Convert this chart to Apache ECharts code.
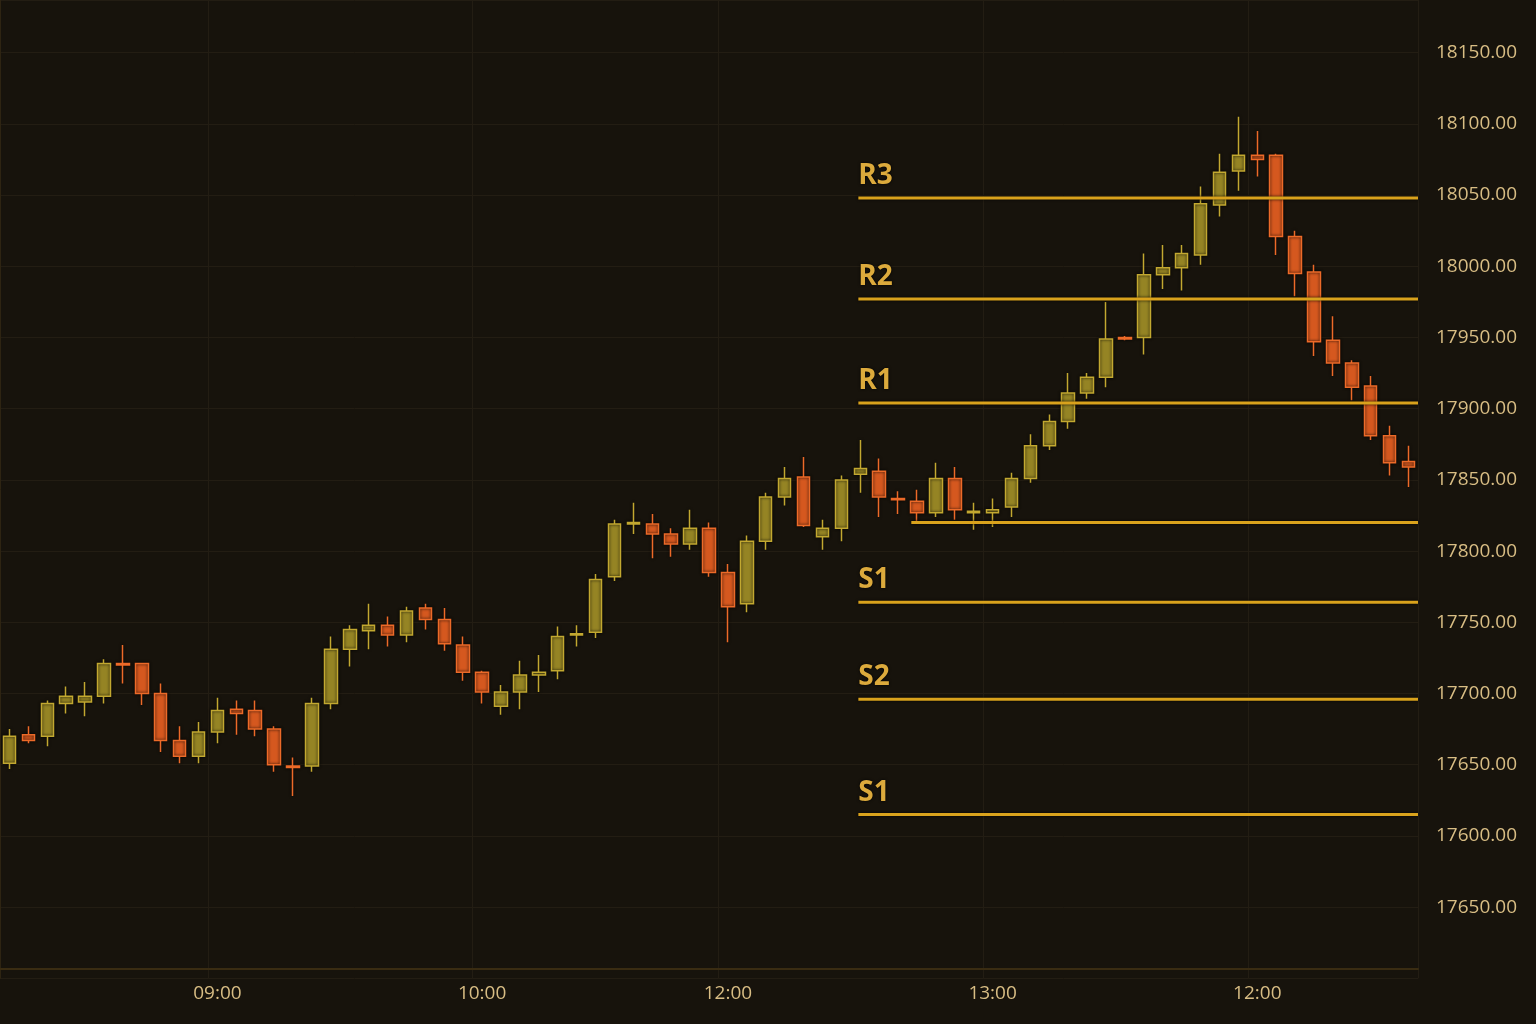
<!DOCTYPE html>
<html>
<head>
<meta charset="utf-8">
<script src="https://cdn.jsdelivr.net/npm/echarts@6/dist/echarts.min.js"></script>
<style>
html,body{margin:0;padding:0;background:#17130c;}
#chart{width:1536px;height:1024px;}
</style>
</head>
<body>
<div id="chart"></div>
<script>
// candles: [open, close, low, high]
var candles = [
  [17651,17670,17647,17675],[17671,17667,17665,17677],[17670,17693,17663,17695],[17693,17698,17686,17705],
  [17694,17698,17684,17708],[17698,17721,17693,17724],[17721,17720,17707,17734],[17721,17700,17692,17721],
  [17700,17667,17659,17707],[17667,17656,17651,17677],[17656,17673,17651,17680],[17673,17688,17665,17697],
  [17689,17686,17671,17695],[17688,17675,17670,17695],[17675,17650,17645,17677],[17649,17648,17628,17655],
  [17649,17693,17645,17697],[17693,17731,17689,17740],[17731,17745,17719,17748],[17744,17748,17731,17763],
  [17748,17741,17733,17754],[17741,17758,17736,17761],[17760,17752,17745,17763],[17752,17735,17730,17760],
  [17734,17715,17709,17740],[17715,17701,17693,17716],[17691,17701,17685,17706],[17701,17713,17689,17723],
  [17713,17715,17701,17727],[17716,17740,17710,17747],[17741,17742,17733,17748],[17743,17780,17739,17784],
  [17782,17819,17779,17822],[17819,17820,17812,17834],[17819,17812,17795,17826],[17812,17805,17796,17816],
  [17805,17816,17801,17829],[17816,17785,17782,17820],[17785,17761,17736,17791],[17763,17807,17757,17811],
  [17807,17838,17801,17841],[17838,17851,17832,17859],[17852,17818,17817,17866],[17810,17816,17801,17822],
  [17816,17850,17807,17853],[17854,17858,17841,17878],[17856,17838,17824,17865],[17837,17836,17826,17842],
  [17835,17827,17820,17843],[17827,17851,17824,17862],[17851,17829,17822,17859],[17827,17828,17815,17834],
  [17827,17829,17817,17837],[17831,17851,17824,17855],[17851,17874,17848,17882],[17874,17891,17871,17896],
  [17891,17911,17886,17925],[17911,17922,17907,17925],[17922,17949,17915,17975],[17950,17949,17948,17951],
  [17950,17994,17938,18009],[17994,17999,17984,18015],[17999,18009,17983,18015],[18008,18044,18001,18056],
  [18043,18066,18035,18079],[18067,18078,18053,18105],[18078,18075,18063,18095],[18078,18021,18008,18079],
  [18021,17995,17979,18025],[17996,17947,17937,18001],[17948,17932,17923,17965],[17932,17915,17906,17934],
  [17916,17881,17878,17923],[17881,17862,17853,17888],[17863,17859,17845,17874]
];
var timeLabelIndex = [11, 25, 38, 52, 66];
var timeLabels = ['09:00', '10:00', '12:00', '13:00', '12:00'];
var yTickValues = [17550,17600,17650,17700,17750,17800,17850,17900,17950,18000,18050,18100,18150];
var yTickLabels = ['17650.00','17600.00','17650.00','17700.00','17750.00','17800.00','17850.00','17900.00','17950.00','18000.00','18050.00','18100.00','18150.00'];
var levelNames = ['R3', 'R2', 'R1', '', 'S1', 'S2', 'S1'];
var levelValues = [18048, 17977, 17904, 17820, 17764, 17696, 17615];
var levelStart = [45.4, 45.4, 45.4, 48.2, 45.4, 45.4, 45.4];

var categories = candles.map(function(c, i){ return 'c' + i; });
var gridLine = '#231d13';

var levelSeries = levelValues.map(function(v, i){
  return {
    type: 'line',
    xAxisIndex: 1,
    symbol: 'circle',
    symbolSize: 0,
    silent: true,
    lineStyle: {color: '#d9a21c', width: 3, shadowColor: 'rgba(0,0,0,0.9)', shadowBlur: 3},
    data: [
      {value: [levelStart[i], v], label: {
        show: levelNames[i] !== '', formatter: levelNames[i], position: 'top', align: 'left',
        distance: 8, color: '#dcaa3c', fontSize: 28, fontWeight: 'bold', fontFamily: 'Open Sans',
        textShadowColor: '#000', textShadowBlur: 3
      }},
      {value: [75, v], label: {show: false}}
    ]
  };
});

var option = {
  backgroundColor: '#17130c',
  animation: false,
  grid: {left: 0, right: 118, top: 0, bottom: 45.7},
  xAxis: [{
    type: 'category',
    data: categories,
    offset: -10,
    axisLine: {lineStyle: {color: '#3a2c12', width: 2}},
    axisTick: {show: false},
    axisLabel: {
      color: '#d8bd84', fontSize: 19, fontFamily: 'Open Sans', margin: 16,
      interval: function(i){ return timeLabelIndex.indexOf(i) >= 0; },
      formatter: function(v, i){ return timeLabels[timeLabelIndex.indexOf(i)]; }
    },
    splitLine: {show: true, interval: function(i){ return timeLabelIndex.indexOf(i) >= 0; }, lineStyle: {color: gridLine}}
  }, {
    type: 'value', min: 0, max: 75, show: false
  }],
  yAxis: {
    type: 'value',
    position: 'right',
    min: 17500, max: 18187, interval: 50,
    axisLine: {show: true, lineStyle: {color: '#2e2412'}},
    axisTick: {show: false},
    splitLine: {lineStyle: {color: gridLine}},
    axisLabel: {
      color: '#d8bd84', fontSize: 19, fontFamily: 'Open Sans', margin: 18,
      showMinLabel: false, showMaxLabel: false,
      formatter: function(v){ var k = yTickValues.indexOf(v); return k >= 0 ? yTickLabels[k] : ''; }
    }
  },
  series: [{
    type: 'candlestick',
    data: candles,
    barWidth: 13,
    itemStyle: {
      color: '#958424', borderColor: '#c2a830',
      color0: '#d5581f', borderColor0: '#ec6a28',
      borderWidth: 1.5, shadowColor: 'rgba(0,0,0,0.9)', shadowBlur: 3
    }
  }].concat(levelSeries)
};

echarts.init(document.getElementById('chart')).setOption(option);
</script>
</body>
</html>
